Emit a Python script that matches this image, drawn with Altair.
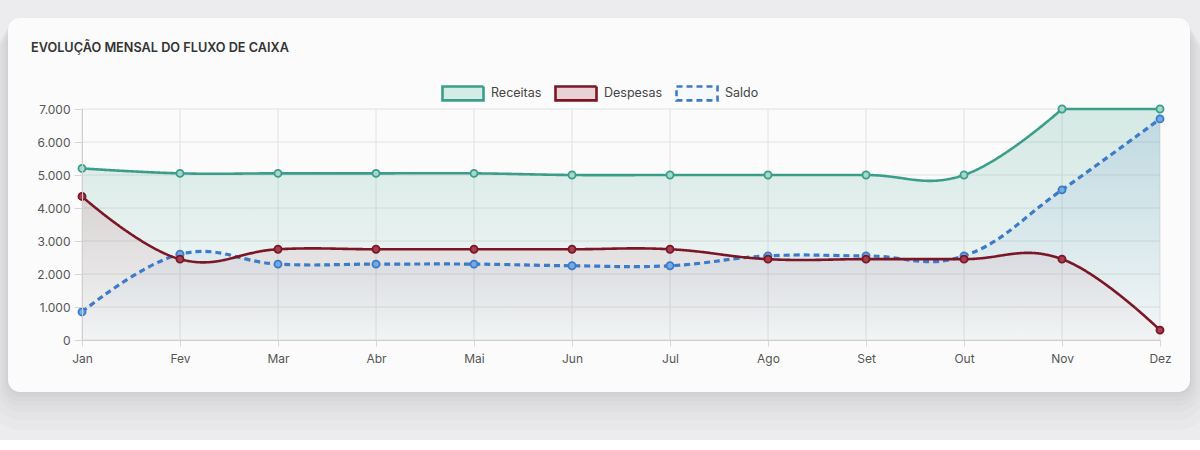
import altair as alt
import pandas as pd

# Monthly cash-flow figures (R$)
months = ["Jan", "Fev", "Mar", "Abr", "Mai", "Jun", "Jul", "Ago", "Set", "Out", "Nov", "Dez"]
receitas = [5200, 5050, 5050, 5050, 5050, 5000, 5000, 5000, 5000, 5000, 7000, 7000]
despesas = [4350, 2450, 2750, 2750, 2750, 2750, 2750, 2450, 2450, 2450, 2450, 300]
saldo = [850, 2600, 2300, 2300, 2300, 2250, 2250, 2550, 2550, 2550, 4550, 6700]
y_ticks = [0, 1000, 2000, 3000, 4000, 5000, 6000, 7000]

series_names = ["Receitas", "Despesas", "Saldo"]
line_colors = ["#3a9e8a", "#7a1626", "#3b7bc8"]
point_fills = ["#a6d8cc", "#a5404f", "#76aae2"]
legend_fills = ["#d3ece6", "#e9d2d6", "#f6f8fb"]
dashes = [[1, 0], [1, 0], [6, 4]]
fill_top = ["rgba(58,158,138,0.20)", "rgba(170,50,70,0.14)", "rgba(59,123,200,0.14)"]
fill_bottom = ["rgba(58,158,138,0.03)", "rgba(170,50,70,0.01)", "rgba(59,123,200,0.01)"]

rows = []
for name, vals in zip(series_names, [receitas, despesas, saldo]):
    for i, (m, v) in enumerate(zip(months, vals)):
        rows.append({"mes": m, "serie": name, "valor": v, "idx": i})
df = pd.DataFrame(rows)
one = pd.DataFrame({"k": [0]})

FONT = "Inter"
W, H = 1078, 231
PAD = {"left": 82, "top": 109, "right": 40, "bottom": 110}

x_scale = alt.Scale(type="point", padding=0, domain=months)
y_scale = alt.Scale(domain=[0, 7000], nice=False)
x_axis = alt.Axis(
    title=None, labelAngle=0, labelAlign="center", labelBaseline="top",
    tickSize=6, labelPadding=7, grid=False, zindex=1,
)
y_axis = alt.Axis(
    title=None,
    values=y_ticks,
    labelExpr="replace(format(datum.value, ',d'), ',', '.')",
    labelOverlap=False,
    tickSize=8,
    labelPadding=4,
    grid=False,
    zindex=1,
)
x_enc = alt.X("mes:N", scale=x_scale, axis=x_axis)
y_enc = alt.Y("valor:Q", scale=y_scale, axis=y_axis)

# page background, soft shadow and the white card
bg = alt.Chart(one).mark_rect(color="#ececee").encode(
    x=alt.value(-PAD["left"]), x2=alt.value(W + PAD["right"]),
    y=alt.value(-PAD["top"]), y2=alt.value(H + 100),
)
shadows = [
    alt.Chart(one).mark_rect(color="#000000", opacity=0.014, cornerRadius=12 + s / 2).encode(
        x=alt.value(-74 - s / 2), x2=alt.value(1108 + s / 2),
        y=alt.value(-91 + s / 2), y2=alt.value(283 + s),
    )
    for s in (2, 5, 9, 14, 20, 28, 38)
]
card = alt.Chart(one).mark_rect(color="#fbfbfb", cornerRadius=12).encode(
    x=alt.value(-74), x2=alt.value(1108), y=alt.value(-91), y2=alt.value(283)
)

title = alt.Chart(one).mark_text(
    text="EVOLUÇÃO MENSAL DO FLUXO DE CAIXA", align="left", baseline="alphabetic",
    font=FONT, fontSize=12.7, fontWeight=600, color="#333333",
).encode(x=alt.value(-51), y=alt.value(-57))

# grid lines
grid_x = alt.Chart(pd.DataFrame({"mes": months})).mark_rule(color="#e2e2e2", strokeWidth=1).encode(
    x=x_enc, y=alt.value(0), y2=alt.value(H),
)
grid_y = alt.Chart(pd.DataFrame({"valor": y_ticks})).mark_rule(color="#e2e2e2", strokeWidth=1).encode(
    y=y_enc, x=alt.value(0), x2=alt.value(W),
)


def pieces(name):
    """Curved run of a series; a flat run that ends at the chart top is kept straight."""
    sub = df[df["serie"] == name]
    if name == "Receitas":
        return [(sub[sub["idx"] <= 10], "cardinal"), (sub[sub["idx"] >= 10], "linear")]
    return [(sub, "cardinal")]


areas, lines, points = [], [], []
for i, name in enumerate(series_names):
    grad = alt.Gradient(
        gradient="linear",
        stops=[
            alt.GradientStop(color=fill_top[i], offset=0),
            alt.GradientStop(color=fill_bottom[i], offset=1),
        ],
        x1=1, x2=1, y1=0, y2=1,
    )
    for part, interp in pieces(name):
        extra = {"tension": -0.2} if interp == "cardinal" else {}
        areas.append(
            alt.Chart(part).mark_area(interpolate=interp, color=grad, **extra)
            .encode(x=x_enc, y=y_enc)
        )
        lines.append(
            alt.Chart(part).mark_line(
                interpolate=interp, color=line_colors[i],
                strokeWidth=2.6 if i < 2 else 3.2, strokeDash=dashes[i], **extra,
            ).encode(x=x_enc, y=y_enc)
        )
    points.append(
        alt.Chart(df[df["serie"] == name]).mark_point(
            filled=True, size=50, fill=point_fills[i], stroke=line_colors[i],
            strokeWidth=1.8, opacity=1,
        ).encode(x=x_enc, y=y_enc)
    )

leg = alt.Legend(
    orient="none", legendX=359, legendY=-38, direction="horizontal", title=None,
    symbolType="M-1,-0.34H1V0.34H-1Z", symbolSize=1681, symbolStrokeWidth=2.6,
    labelFontSize=12.5, labelColor="#444", labelFont=FONT, labelOffset=6, columnPadding=8,
)
legend_layer = alt.Chart(df).mark_point(size=0, filled=True, opacity=1).encode(
    x=x_enc, y=y_enc,
    stroke=alt.Stroke("serie:N", scale=alt.Scale(domain=series_names, range=line_colors), legend=leg),
    fill=alt.Fill("serie:N", scale=alt.Scale(domain=series_names, range=legend_fills), legend=leg),
    strokeDash=alt.StrokeDash("serie:N", scale=alt.Scale(domain=series_names, range=dashes), legend=leg),
)

chart = alt.layer(
    bg, *shadows, card, title, grid_x, grid_y,
    *areas, *reversed(lines), *reversed(points), legend_layer,
).properties(
    width=W, height=H,
    padding=PAD,
    autosize=alt.AutoSizeParams(type="none"),
    background="#ffffff",
).configure_view(strokeWidth=0).configure_axis(
    labelFont=FONT, labelFontSize=12, labelColor="#555555",
    tickColor="#d6d6d6", domainColor="#cfcfcf",
)

chart.save("out.html", embed_options={"renderer": "svg", "actions": False})
